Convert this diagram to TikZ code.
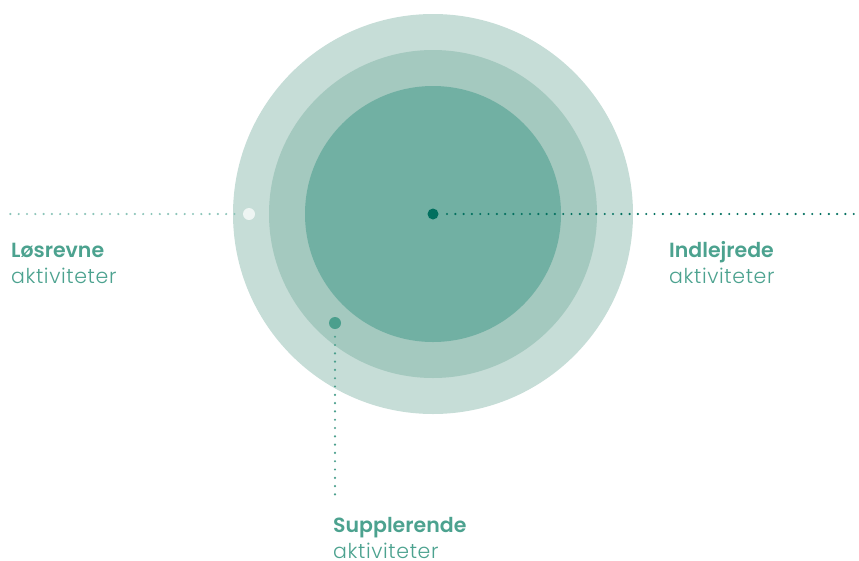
\documentclass[tikz,border=0pt]{standalone}
\usepackage{fontspec}
\setmainfont{Poppins}[BoldFont={Poppins SemiBold}]
\newfontfamily\kthin{Poppins Light}[LetterSpace=3]
\definecolor{ringout}{HTML}{C6DDD7}
\definecolor{ringmid}{HTML}{A4C9BF}
\definecolor{ringin}{HTML}{71B0A3}
\definecolor{tealdark}{HTML}{02705F}
\definecolor{tealmid}{HTML}{4B9F8D}
\definecolor{teallight}{HTML}{8CC5B9}
\definecolor{dotwhite}{HTML}{EEF5F3}
\definecolor{labeltxt}{HTML}{4CA28F}
\tikzset{
  ringdot/.style={circle,inner sep=0pt,minimum size=#1},
  dotline/.style={line width=2.4pt,line cap=round,dash pattern=on 0pt off 8.3pt},
  lbl/.style={anchor=base west,inner sep=0pt,align=left,text=labeltxt,
    font=\fontsize{20.5}{26}\selectfont}
}
\begin{document}
\begin{tikzpicture}[x=1pt,y=-1pt]
\useasboundingbox (0,0) rectangle (859,560);
\pgfmathsetmacro{\kcx}{433}
\pgfmathsetmacro{\kcy}{214}
\foreach \kr/\kcol in {200/ringout,164/ringmid,128/ringin}{\fill[\kcol](\kcx,\kcy) circle (\kr);}
%dots on the rings
\node[ringdot=12,fill=dotwhite](loose) at (249,214){};
\node[ringdot=11,fill=tealdark](embed) at (\kcx,\kcy){};
\node[ringdot=12,fill=tealmid](supp) at (335,323){};
\coordinate(looseend) at (8,214);
\coordinate(embedend) at (858,214);
\coordinate(suppend) at (335,496);
\draw[dotline,teallight](loose.west)++(-8.3,0)--(looseend);
\draw[dotline,tealdark](embed.east)++(8.3,0)--(embedend);
\draw[dotline,tealmid](supp.south)++(0,7.5)--(suppend);
%labels
\node[lbl](looselbl) at (11,283){\textbf{Løsrevne}\\\kthin aktiviteter};
\node[lbl](embedlbl) at (669,283){\textbf{Indlejrede}\\\kthin aktiviteter};
\node[lbl](supplbl) at (333,558){\textbf{Supplerende}\\\kthin aktiviteter};
\end{tikzpicture}
\end{document}
